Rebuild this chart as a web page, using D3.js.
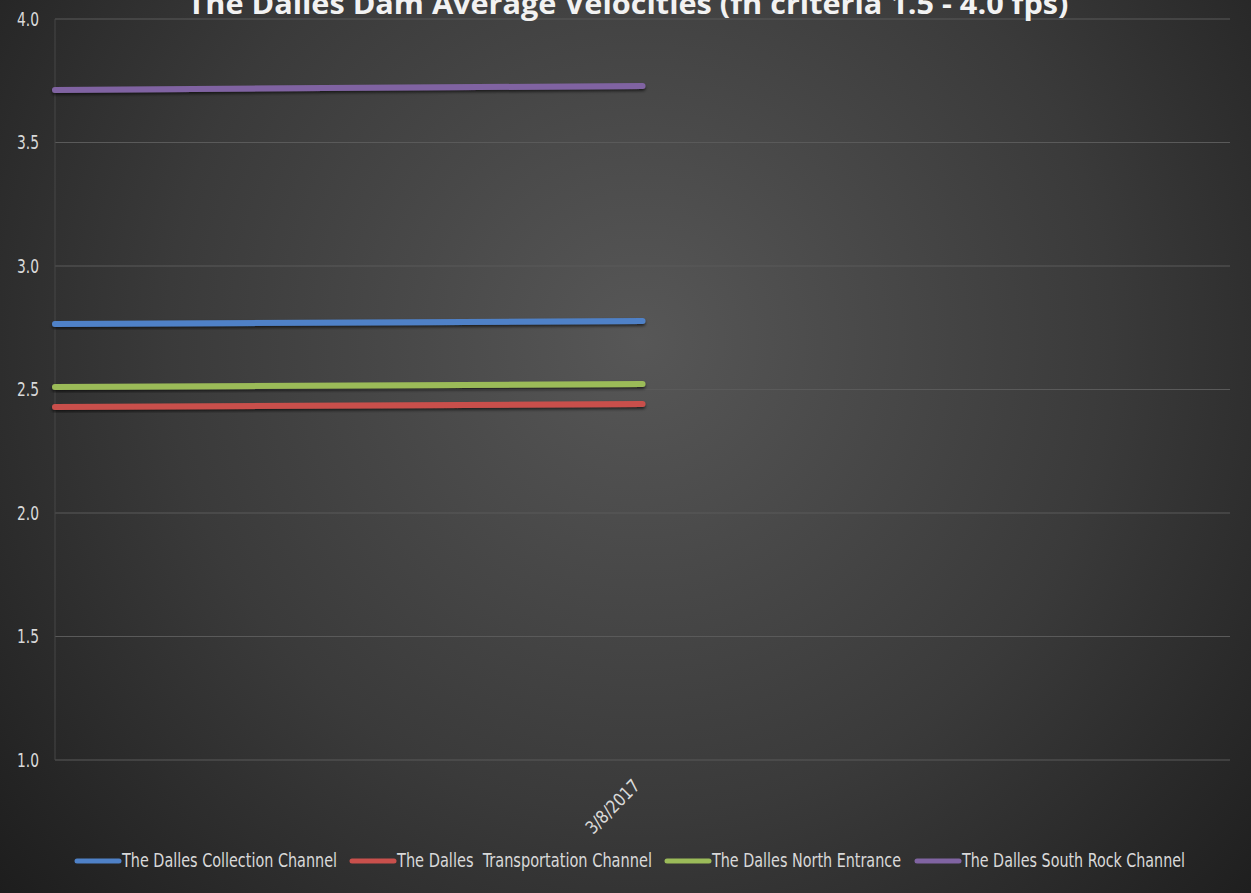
<!DOCTYPE html>
<html>
<head>
<meta charset="utf-8">
<script src="https://cdn.jsdelivr.net/npm/d3@7"></script>
<style>
  html, body { margin: 0; padding: 0; background: #262626; }
  svg { display: block; }
</style>
</head>
<body>
<svg id="chart" width="1251" height="893"></svg>
<script>
const dates = ['3/7/2017', '3/8/2017', '3/9/2017']
const tickLabels = ['', '3/8/2017', '']
const seriesNames = [
  'The Dalles Collection Channel',
  'The Dalles  Transportation Channel',
  'The Dalles North Entrance',
  'The Dalles South Rock Channel'
]
const collectionValues = [2.765, 2.777, null]
const transportationValues = [2.429, 2.441, null]
const northEntranceValues = [2.510, 2.522, null]
const southRockValues = [3.713, 3.729, null]
const yTicks = [1.0, 1.5, 2.0, 2.5, 3.0, 3.5, 4.0]
const colors = ['#4f81c7', '#c9504c', '#9bbb59', '#8064a2']

const seriesValues = [collectionValues, transportationValues, northEntranceValues, southRockValues]

const width = 1251
const height = 893
const margin = { top: 19, right: 21, bottom: 133, left: 55 }

const svg = d3.select('#chart')
const defs = svg.append('defs')

const bg = defs.append('radialGradient')
  .attr('id', 'bg')
  .attr('gradientUnits', 'userSpaceOnUse')
  .attr('cx', 640).attr('cy', 340).attr('r', 860)
bg.append('stop').attr('offset', '0%').attr('stop-color', '#575757')
bg.append('stop').attr('offset', '55%').attr('stop-color', '#3a3a3a')
bg.append('stop').attr('offset', '100%').attr('stop-color', '#1c1c1c')

const shadow = defs.append('filter')
  .attr('id', 'shadow')
  .attr('x', '-5%').attr('y', '-200%').attr('width', '110%').attr('height', '500%')
shadow.append('feDropShadow')
  .attr('dx', 0).attr('dy', 2).attr('stdDeviation', 1.5)
  .attr('flood-color', '#000').attr('flood-opacity', 0.6)

svg.append('rect')
  .attr('width', width).attr('height', height)
  .attr('fill', 'url(#bg)')

const x = d3.scalePoint()
  .domain(dates)
  .range([margin.left, width - margin.right])

const y = d3.scaleLinear()
  .domain([1.0, 4.0])
  .range([height - margin.bottom, margin.top])

const font = "'DejaVu Sans Condensed', 'Liberation Sans', sans-serif"

// gridlines
svg.append('g')
  .selectAll('line')
  .data(yTicks)
  .join('line')
  .attr('x1', margin.left)
  .attr('x2', width - margin.right)
  .attr('y1', d => y(d))
  .attr('y2', d => y(d))
  .attr('stroke', '#5a5a5a')
  .attr('stroke-width', 1)

svg.append('line')
  .attr('x1', margin.left).attr('x2', margin.left)
  .attr('y1', margin.top).attr('y2', height - margin.bottom)
  .attr('stroke', '#474747')

// y axis labels
const yAxis = d3.axisLeft(y)
  .tickValues(yTicks)
  .tickFormat(d3.format('.1f'))
  .tickSize(0)
  .tickPadding(16)

svg.append('g')
  .attr('transform', `translate(${margin.left},0)`)
  .call(yAxis)
  .call(g => g.select('.domain').remove())
  .call(g => g.selectAll('text')
    .attr('fill', '#d9d9d9')
    .attr('font-family', font)
    .attr('font-size', 19)
    .attr('textLength', 22)
    .attr('lengthAdjust', 'spacingAndGlyphs'))

// x axis labels
const xAxis = d3.axisBottom(x)
  .tickFormat((d, i) => tickLabels[i])
  .tickSize(0)

svg.append('g')
  .attr('transform', `translate(0,${height - margin.bottom})`)
  .call(xAxis)
  .call(g => g.select('.domain').remove())
  .call(g => g.selectAll('text')
    .attr('fill', '#d9d9d9')
    .attr('font-family', font)
    .attr('font-size', 18)
    .attr('text-anchor', 'end')
    .attr('y', 0)
    .attr('dy', 0)
    .attr('textLength', d => d === dates[1] ? 68 : null)
    .attr('lengthAdjust', 'spacingAndGlyphs')
    .attr('transform', 'translate(-2,27) rotate(-45)'))

// lines
const line = d3.line()
  .defined(d => d != null)
  .x((d, i) => x(dates[i]))
  .y(d => y(d))

svg.append('g')
  .selectAll('path')
  .data(seriesValues)
  .join('path')
  .attr('d', d => line(d))
  .attr('fill', 'none')
  .attr('stroke', (d, i) => colors[i])
  .attr('stroke-width', 6)
  .attr('stroke-linecap', 'round')
  .attr('filter', 'url(#shadow)')

// title (top is clipped in the original)
svg.append('text')
  .attr('x', 628)
  .attr('y', 14)
  .attr('text-anchor', 'middle')
  .attr('fill', '#f2f2f2')
  .attr('font-family', "'Open Sans', sans-serif")
  .attr('font-weight', 'bold')
  .attr('font-size', 28)
  .attr('textLength', 881)
  .attr('lengthAdjust', 'spacingAndGlyphs')
  .text('The Dalles Dam Average Velocities (fh criteria 1.5 - 4.0 fps)')

// legend
const swatchX = [77, 352, 667, 917]
const labelWidths = [215, 255, 189, 223]
const legend = svg.append('g')
  .selectAll('g')
  .data(seriesNames)
  .join('g')
  .attr('transform', (d, i) => `translate(${swatchX[i]},861)`)

legend.append('line')
  .attr('x1', 0).attr('x2', 42)
  .attr('y1', 0).attr('y2', 0)
  .attr('stroke', (d, i) => colors[i])
  .attr('stroke-width', 5)
  .attr('stroke-linecap', 'round')

legend.append('text')
  .attr('x', 45)
  .attr('y', 6)
  .attr('fill', '#d9d9d9')
  .attr('font-family', font)
  .attr('font-size', 19)
  .attr('textLength', (d, i) => labelWidths[i])
  .attr('lengthAdjust', 'spacingAndGlyphs')
  .style('white-space', 'pre')
  .text(d => d)
</script>
</body>
</html>
